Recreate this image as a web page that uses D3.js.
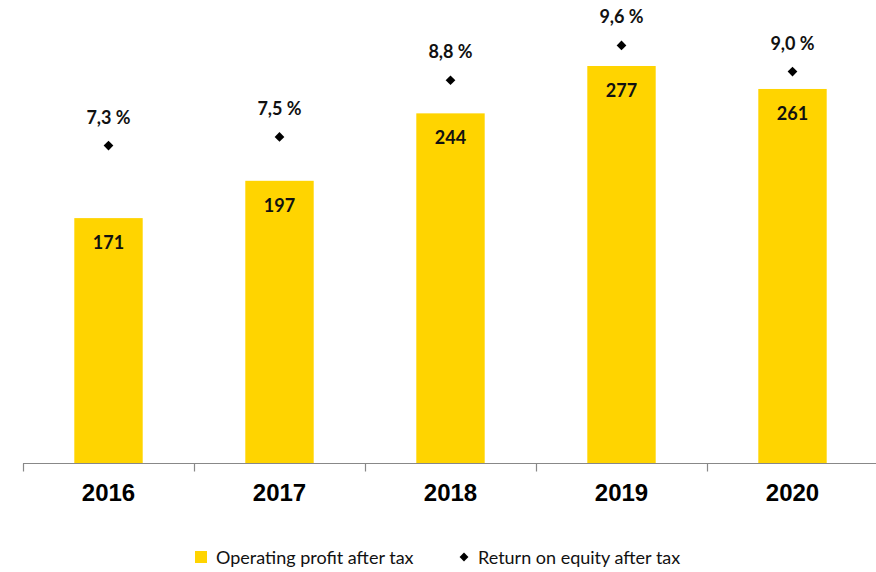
<!DOCTYPE html>
<html>
<head>
<meta charset="utf-8">
<script src="https://cdn.jsdelivr.net/npm/d3@7"></script>
<style>
  html, body { margin: 0; padding: 0; background: #fff; }
  svg { display: block; }
</style>
</head>
<body>
<script>
// Chart data
const years = ["2016", "2017", "2018", "2019", "2020"];
const operatingProfit = [171, 197, 244, 277, 261];
const returnOnEquity = [7.3, 7.5, 8.8, 9.6, 9.0];
const roeLabels = ["7,3 %", "7,5 %", "8,8 %", "9,6 %", "9,0 %"];
const legendLabels = ["Operating profit after tax", "Return on equity after tax"];

const W = 876, H = 572;
const baseY = 463.5;
const yellow = "#FFD400";
const labelFont = "Lato, 'Open Sans', sans-serif";

const svg = d3.select("body").append("svg")
  .attr("width", W).attr("height", H);

const x = d3.scaleBand().domain(years).range([23, 878]).paddingInner(0.6).paddingOuter(0.3);
const band = d3.scaleBand().domain(years).range([23, 878]);
const yBar = d3.scaleLinear().domain([0, 300]).range([baseY, 33]);
const yRoe = d3.scaleLinear().domain([0, 10]).range([baseY, 28]);

// Bars
svg.append("g").selectAll("rect")
  .data(years)
  .join("rect")
  .attr("x", d => x(d))
  .attr("width", x.bandwidth())
  .attr("y", (d, i) => yBar(operatingProfit[i]))
  .attr("height", (d, i) => baseY - yBar(operatingProfit[i]))
  .attr("fill", yellow);

// Value labels inside bars
svg.append("g").selectAll("text")
  .data(years)
  .join("text")
  .attr("x", d => x(d) + x.bandwidth() / 2)
  .attr("y", (d, i) => yBar(operatingProfit[i]) + 31)
  .attr("text-anchor", "middle")
  .attr("font-family", labelFont)
  .attr("font-weight", "bold")
  .attr("font-size", 18)
  .attr("fill", "#111")
  .text((d, i) => operatingProfit[i]);

// Category axis
const axis = svg.append("g");
axis.append("line")
  .attr("x1", band.range()[0]).attr("x2", W)
  .attr("y1", baseY).attr("y2", baseY)
  .attr("stroke", "#888").attr("stroke-width", 1.2);
axis.selectAll("line.tick")
  .data(years)
  .join("line")
  .attr("class", "tick")
  .attr("x1", d => band(d) + 0.5).attr("x2", d => band(d) + 0.5)
  .attr("y1", baseY).attr("y2", baseY + 8)
  .attr("stroke", "#888").attr("stroke-width", 1.2);
axis.selectAll("text")
  .data(years)
  .join("text")
  .attr("x", d => band(d) + band.bandwidth() / 2)
  .attr("y", 501)
  .attr("text-anchor", "middle")
  .attr("font-family", "'Liberation Sans', Arial, sans-serif")
  .attr("font-weight", "bold")
  .attr("font-size", 24)
  .attr("fill", "#000")
  .text(d => d);

// Return on equity markers
const diamond = d3.symbol().type(d3.symbolDiamond2).size(60);
svg.append("g").selectAll("path")
  .data(years)
  .join("path")
  .attr("transform", (d, i) => `translate(${x(d) + x.bandwidth() / 2},${yRoe(returnOnEquity[i])})`)
  .attr("d", diamond)
  .attr("fill", "#000");

svg.append("g").selectAll("text")
  .data(years)
  .join("text")
  .attr("x", d => x(d) + x.bandwidth() / 2)
  .attr("y", (d, i) => yRoe(returnOnEquity[i]) - 22)
  .attr("text-anchor", "middle")
  .attr("font-family", labelFont)
  .attr("font-weight", "bold")
  .attr("font-size", 18)
  .attr("fill", "#111")
  .text((d, i) => roeLabels[i]);

// Legend
const legend = svg.append("g").attr("font-family", labelFont).attr("font-size", 18).attr("fill", "#111");
legend.append("rect").attr("x", 195).attr("y", 551).attr("width", 12).attr("height", 12).attr("fill", yellow);
legend.append("text").attr("x", 216).attr("y", 564).text(legendLabels[0]);
legend.append("path")
  .attr("transform", "translate(464,557)")
  .attr("d", d3.symbol().type(d3.symbolDiamond2).size(50))
  .attr("fill", "#000");
legend.append("text").attr("x", 478).attr("y", 564).text(legendLabels[1]);
</script>
</body>
</html>
